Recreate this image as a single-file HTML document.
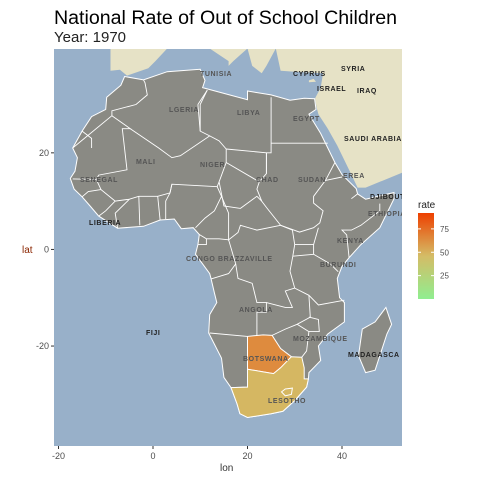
<!DOCTYPE html>
<html><head><meta charset="utf-8"><style>
body{margin:0;background:#fff;width:480px;height:480px;overflow:hidden;font-family:"Liberation Sans",sans-serif}
</style></head><body>
<svg id="chart" width="480" height="480" viewBox="0 0 480 480" xmlns="http://www.w3.org/2000/svg">
<text x="54" y="24" font-size="19.6" fill="#000">National Rate of Out of School Children</text>
<text x="54" y="42" font-size="15" fill="#222">Year: 1970</text>
<defs><clipPath id="pc"><rect x="54" y="49" width="348" height="397"/></clipPath>
<linearGradient id="lg" x1="0" y1="1" x2="0" y2="0"><stop offset="0" stop-color="#90ee90"/><stop offset="0.5" stop-color="#d4bc66"/><stop offset="1" stop-color="#ee4000"/></linearGradient></defs>
<g id="panel" clip-path="url(#pc)">
<rect x="54" y="49" width="348" height="397" fill="#98b0c9"/>
</g>
<g id="axes"></g>
<text x="22" y="253" font-size="10" fill="#8b2500">lat</text>
<text x="220" y="471" font-size="10" fill="#333">lon</text>
<g>
<text x="418" y="208" font-size="10" fill="#222">rate</text>
<rect x="418" y="213" width="16" height="86" fill="url(#lg)"/>
<g id="legticks"></g>
</g>
</svg>
<script>
const lonTicks=[-20,0,20,40];
const latTicks=[20,0,-20];
const legendTicks=[25,50,75];
const countries=["Botswana","South Africa"];
const rates=[64,48];
const NS="http://www.w3.org/2000/svg";
const X=lon=>54+(lon+20.95)*4.725;
const Y=lat=>49+(41.5-lat)*4.83;
const rmin=0,rmax=92;
const LY=v=>299-(v-rmin)/(rmax-rmin)*86;
function col(v){const t=(v-rmin)/(rmax-rmin);const a=[[144,238,144],[212,188,102],[238,64,0]];let c;if(t<.5){const u=t/.5;c=a[0].map((x,i)=>x+(a[1][i]-x)*u)}else{const u=(t-.5)/.5;c=a[1].map((x,i)=>x+(a[2][i]-x)*u)}return`rgb(${c.map(Math.round).join(',')})`}
function pts(a){return a.map(p=>X(p[0]).toFixed(1)+','+Y(p[1]).toFixed(1)).join(' ')}
const panel=document.getElementById('panel');
function poly(a,fill,stroke,name){const e=document.createElementNS(NS,'polygon');e.setAttribute('points',pts(a));e.setAttribute('fill',fill);e.setAttribute('stroke',stroke);e.setAttribute('stroke-width','1');


panel.appendChild(e);return e}
function line(a,name){const e=document.createElementNS(NS,'polyline');e.setAttribute('points',pts(a));e.setAttribute('fill','none');e.setAttribute('stroke','#fff');e.setAttribute('stroke-width','0.9');


panel.appendChild(e)}
poly([[34.3,31.3],[35.5,33.5],[36,36.5],[30,36.8],[27,37],[26,41.6],[53,41.6],[53,16],[45,12.8],[43.3,12.8],[42,15.5],[39,21.5],[37,25],[35,28],[34.6,29.5]],"#e6e2c6","none","middle-east-land");
poly([[-21,41.6],[3,41.6],[0.5,39],[-1,37.5],[-5.5,36],[-7,37.2],[-9,37],[-9,41.6]],"#e6e2c6","none","iberia-land");
poly([[12,41.6],[16,39],[16,38],[17,39],[18.5,40.3],[20,41.6]],"#e6e2c6","none","italy-land");
poly([[20,41.6],[21,38],[23,36.5],[24,38],[26,41.6]],"#e6e2c6","none","greece-land");
poly([[33,35],[34,35.3],[34.5,34.7],[33,34.6]],"#e6e2c6","none","cyprus-land");
const africa=[[-6,35.8],[-2,35.1],[3,36.8],[10,37.3],[11,35],[10.5,33.5],[15,32.3],[20,31],[20,32.8],[25,32],[29,30.9],[32,31.3],[34.2,31.2],[34.5,29],[33,28],[35.5,24],[37,21],[38.5,18],[40,15.5],[43,12.6],[43.3,11.5],[45,10.4],[51,11.8],[51,10.5],[48,4.5],[44,1],[41.5,-1.7],[40,-3.5],[39,-6],[39.5,-10],[40.5,-11],[40.5,-15],[37,-17.5],[35,-20],[35.5,-23],[33,-25.5],[32.9,-26.8],[32.5,-28.5],[30,-31.3],[27.5,-33.5],[25,-34],[20,-34.8],[18.4,-34],[17.8,-32],[16.5,-28.6],[15,-26.5],[14.5,-22.5],[11.8,-17.3],[12,-13.5],[13.5,-11],[13,-9],[12.3,-6.1],[12,-5],[9,-1],[9.5,1],[9.8,3.1],[8.5,4.5],[6,4.3],[4.5,6.3],[1.5,6.1],[-2,4.8],[-7.5,4.4],[-11.5,6.9],[-13.3,9],[-15,10.9],[-16.7,12.5],[-17.5,14.7],[-16.5,16.2],[-16,19],[-17,21],[-15,24.5],[-13,27.5],[-10,29],[-9.8,31.5],[-6.8,34]];
poly(africa,"#8a8a84","#fff","africa-landmass");
poly([[49.3,-12],[50.5,-15.5],[49.5,-17.5],[47,-25],[45,-25.5],[43.5,-22],[44.3,-16.5],[47,-15]],"#8a8a84","#fff","madagascar");
const borders=[
[[-8.7,27.7],[-8.7,28.7],[-3.6,30],[-1.2,32],[-1.7,34.5],[-2,35.1]],
[[-8.7,27.7],[-4.8,25],[-6.5,25],[-5.5,16.5],[-11.5,15.4],[-12,14.5],[-17,14.6]],
[[-8.7,27.7],[-17,21]],[[-13,21],[-13,23],[-15,24.5]],
[[-4.8,25],[1.2,21],[4,19],[5.8,19.4],[12,23.5],[14,22.5],[15.5,20.8],[15.5,18],[14,14],[13.6,13],[4,13.5],[3.6,11.7],[1,11],[-3,11],[-5,10.4],[-8,10],[-11,12.4],[-12,14.5]],
[[9.5,30],[10,24.5],[12,23.5]],[[9.5,30],[11.5,33]],
[[10,24.5],[10,30],[11.5,33]],
[[25,31.5],[25,20],[24,20],[24,15.7],[22.5,14],[22,12.5],[23,10],[24,8.7],[27,5],[31,3.6],[34,4.5],[35.3,5.5],[36,8],[34,9.6],[34,11],[36.5,14.3],[38.5,18]],
[[25,22],[37,22]],[[15.5,20.8],[24,20]],[[24,20],[24,15.7]],[[15.5,18],[22.5,14]],
[[14,14],[15,9],[18.5,8.5],[22,11],[23,10]],[[13.6,13],[14.5,11],[13,8],[11,6.5],[9,4.5]],
[[4,13.5],[3.6,11.7],[2.7,10],[2.7,6.3]],[[1,11],[1.5,6.1]],[[-3,11],[-2.8,5]],[[-5,10.4],[-8,7.5],[-7.5,4.4]],
[[-8,10],[-10,8],[-11.5,6.9]],[[-11,12.4],[-13.7,12],[-15,10.9]],
[[14.5,11],[16,7.5],[16,2],[18,3.5],[18.5,5],[22,4],[27,5]],
[[9.8,3.1],[11.3,2.2],[14,2.2],[16,2]],[[11.3,2.2],[11.3,1],[9.5,1]],
[[16,2],[17.5,-3],[16,-5],[12.3,-6.1]],[[17.5,-3],[18,-6],[21,-7],[22,-11],[24,-11],[24,-13],[22,-13],[22,-18],[20,-18],[12,-17.3]],
[[27,5],[29.5,4],[30,1],[29.6,-1.4],[29,-4.5],[30,-8],[28,-8.6],[29.5,-12],[28,-12],[24,-11]],
[[30,1],[34,1],[35,4.5]],[[34,1],[34,-1],[37.5,-3],[39.2,-4.6]],[[41.5,-1.7],[41,3],[40,4],[42,4],[44,5],[48,8],[48,9.5]],
[[42,10.5],[43.3,11.5]],[[36.5,14.3],[40,15]],
[[29.6,-1.4],[34,-1]],[[30,-8],[33,-9.5],[35,-11.5],[40.5,-10.5]],[[33,-9.5],[33.3,-14],[30.5,-15.5],[28,-16.5],[25.2,-17.8]],
[[33,-14],[35,-14.5],[35.2,-17],[33,-17]],[[30.5,-15.5],[33,-17],[32.5,-21],[31.5,-22.3]],
[[22,-18],[25.2,-17.8]],[[20,-18],[20,-28.5],[16.5,-28.6]]];
borders.forEach((b,i)=>line(b,'country-border-'+i));
const shapes={
"Botswana":[[20,-22],[20,-18],[23.3,-17.7],[25.2,-17.8],[27,-20.5],[29.3,-22.2],[27,-24.5],[25.5,-25.7],[23,-25.3],[20,-24.8]],
"South Africa":[[16.5,-28.6],[20,-28.5],[20,-24.8],[23,-25.3],[25.5,-25.7],[27,-24.5],[29.3,-22.2],[31.5,-22.3],[32,-24.5],[32,-26.8],[32.9,-26.8],[32.5,-28.5],[30,-31.3],[27.5,-33.5],[25,-34],[20,-34.8],[18.4,-34],[17.8,-32]]};
countries.forEach((c,i)=>{poly(shapes[c],col(rates[i]),"#fff",'country-'+c.toLowerCase().replace(/ /g,'-'))});
poly([[28,-28.9],[29.5,-28.7],[29.3,-30],[28,-30.3],[27.2,-29.5]],col(rates[1]),"#fff","lesotho");
const labels=[["TUNISIA",200,76],["LGERIA",169,112],["LIBYA",237,115],["EGYPT",293,121],["CYPRUS",293,76],["SYRIA",341,71],["ISRAEL",317,91],["IRAQ",357,93],["SAUDI ARABIA",344,141],["MALI",136,164],["NIGER",200,167],["CHAD",256,182],["SUDAN",298,182],["ETHIOPIA",368,216],["DJIBOUTI",370,199],["KENYA",337,243],["BURUNDI",320,267],["ANGOLA",239,312],["BOTSWANA",243,361],["LESOTHO",268,403],["MOZAMBIQUE",293,341],["MADAGASCA",348,357],["FIJI",146,335],["LIBERIA",89,225],["CONGO BRAZZAVILLE",186,261],["SENEGAL",80,182],["EREA",343,178]];
const lg=document.createElementNS(NS,'g');panel.appendChild(lg);
labels.forEach(l=>{const t=document.createElementNS(NS,'text');t.setAttribute('x',l[1]);t.setAttribute('y',l[2]);t.setAttribute('font-size','7');t.setAttribute('font-weight','bold');t.setAttribute('letter-spacing','0.6');t.setAttribute('fill',['CYPRUS','SYRIA','ISRAEL','IRAQ','SAUDI ARABIA','FIJI','LIBERIA','MADAGASCA','DJIBOUTI'].includes(l[0])?'#222':'#555');t.textContent=l[0];


lg.appendChild(t)});
const ax=document.getElementById('axes');
lonTicks.forEach(v=>{const l=document.createElementNS(NS,'line');l.setAttribute('x1',X(v));l.setAttribute('x2',X(v));l.setAttribute('y1',446);l.setAttribute('y2',449);l.setAttribute('stroke','#333');


ax.appendChild(l);const t=document.createElementNS(NS,'text');t.setAttribute('x',X(v));t.setAttribute('y',459);t.setAttribute('font-size','9');t.setAttribute('fill','#4d4d4d');t.setAttribute('text-anchor','middle');t.textContent=v;


ax.appendChild(t)});
latTicks.forEach(v=>{const l=document.createElementNS(NS,'line');l.setAttribute('x1',51);l.setAttribute('x2',54);l.setAttribute('y1',Y(v));l.setAttribute('y2',Y(v));l.setAttribute('stroke','#333');


ax.appendChild(l);const t=document.createElementNS(NS,'text');t.setAttribute('x',49);t.setAttribute('y',Y(v)+3);t.setAttribute('font-size','9');t.setAttribute('fill','#4d4d4d');t.setAttribute('text-anchor','end');t.textContent=v;


ax.appendChild(t)});
const lt=document.getElementById('legticks');
legendTicks.forEach(v=>{[418,431].forEach(x=>{const l=document.createElementNS(NS,'line');l.setAttribute('x1',x);l.setAttribute('x2',x+3);l.setAttribute('y1',LY(v));l.setAttribute('y2',LY(v));l.setAttribute('stroke','#fff');


lt.appendChild(l)});const t=document.createElementNS(NS,'text');t.setAttribute('x',440);t.setAttribute('y',LY(v)+3);t.setAttribute('font-size','8');t.setAttribute('fill','#4d4d4d');t.textContent=v;


lt.appendChild(t)});
</script>
</body></html>
